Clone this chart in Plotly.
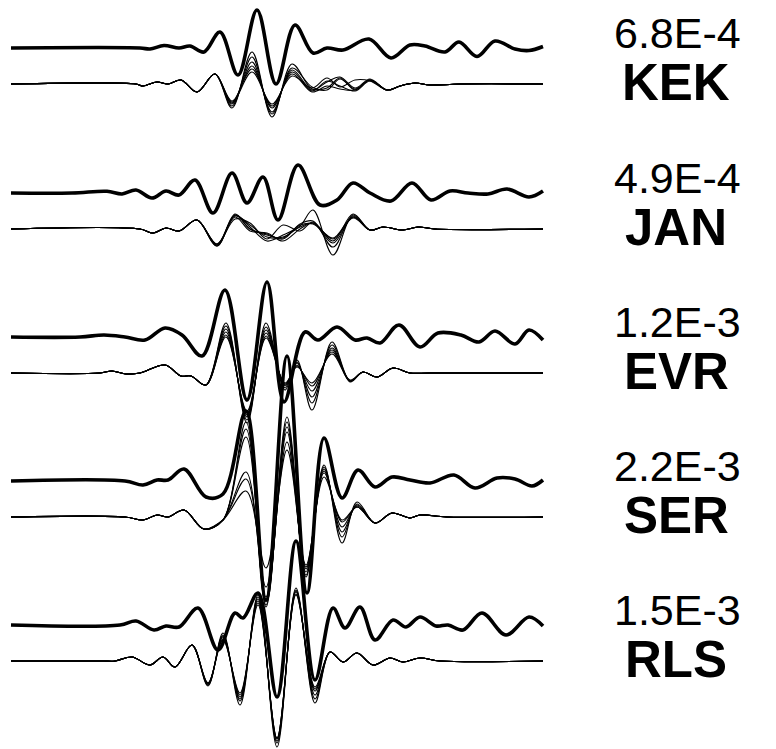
import plotly.graph_objects as go

# ---------------- data (time in s, displacement in display units) ----------------
STATIONS = ["KEK", "JAN", "EVR", "SER", "RLS"]
PEAKS = ["6.8E-4", "4.9E-4", "1.2E-3", "2.2E-3", "1.5E-3"]

# KEK
KEK_OBS_T = [11, 140, 150, 164, 179, 190, 204, 220, 238, 257, 276, 295, 313, 327, 343, 369, 391, 410, 425, 445, 459, 477, 495, 515, 529, 543]
KEK_OBS_A = [0, 0, -1, 2.5, 0, 2, -4, 16, -27, 38, -36, 23, -5, 0, -2, 9, -10, 3, 2, -4, 6, -8.5, 7, -1, -2.5, 1.5]
KEK_SYN_T = [11, 136, 143, 157, 168, 181, 197, 215, 232, 252, 272, 292, 312, 327, 340, 355, 370, 387, 400, 415, 430, 460, 543]
KEK_SYN_A = [
    [0, 0, -2, 2, 0, 4, -8, 10, -24, 32, -33, 20, -5, -4, 6, -6, 4, -6, -2, 1, -1, 0, 0],
    [0, 0, -2, 2, 0, 4, -8, 10, -22, 27, -30, 16, -3, -6, 5, -5, 4, -6, -2, 1, -1, 0, 0],
    [0, 0, -2, 2, 0, 4, -8, 10, -20, 22, -28, 14, -6, 2, 7, -4, 5, -6, -2, 1, -1, 0, 0],
    [0, 0, -2, 2, 0, 4, -8, 10, -19, 18, -24, 12, -7, 3, -2, -7, 3, -6, -2, 1, -1, 0, 0],
    [0, 0, -2, 2, 0, 4, -8, 10, -17, 15, -22, 10, -8, -2, -5, -6, 4, -6, -2, 1, -1, 0, 0],
    [0, 0, -2, 2, 0, 4, -8, 10, -18, 12, -20, 8, -4, 6, -3, 4, 3, -6, -2, 1, -1, 0, 0],
]

# JAN
JAN_OBS_T = [11, 72, 107, 122, 136, 152, 166, 179, 195, 213, 232, 247, 263, 278, 298, 320, 337, 353, 370, 391, 412, 431, 450, 468, 488, 507, 529, 543]
JAN_OBS_A = [0, 0, 1.7, -1, 3, -5, 2, -2, 13, -20, 20, -10, 16, -27, 28, -12, -7, 10, 0, -8, 10, -7, 2, 0, -1, 4, -4, 2]
JAN_SYN_T = [11, 140, 153, 166, 179, 197, 217, 235, 250, 267, 283, 300, 313, 333, 353, 370, 383, 403, 418, 435, 543]
JAN_SYN_A = [
    [0, 0, -4, 1, -2, 9, -17, 14, 2, -12, -6, 3, 19, -26, 14, -1, 2, -1, 2, 0, 0],
    [0, 0, -4, 1, -2, 9, -16, 15, 0, -5, -10, 5, 8, -18, 13, -1, 2, -1, 2, 0, 0],
    [0, 0, -4, 1, -2, 9, -15, 13, 4, -8, -8, 2, 6, -14, 12, -1, 2, -1, 2, 0, 0],
    [0, 0, -4, 1, -2, 9, -16, 12, -2, -4, -12, 0, 6, -10, 11, -1, 2, -1, 2, 0, 0],
    [0, 0, -4, 1, -2, 9, -15, 10, 6, -10, 4, -2, 7, -12, 15, -1, 2, -1, 2, 0, 0],
    [0, 0, -4, 1, -2, 9, -17, 14, 0, -6, -9, 4, 5, -9, 12, -1, 2, -1, 2, 0, 0],
]

# EVR
EVR_OBS_T = [11, 80, 104, 125, 145, 165, 182, 202, 225, 247, 267, 284, 305, 318, 337, 355, 367, 380, 399, 420, 438, 461, 479, 495, 515, 529, 543]
EVR_OBS_A = [0, 0, 2, 0, -3, 9, 2, -19, 47, -63, 55, -65, 5, -3, 10, -3, -1, -6, 12, -10, 4, 2, -5, 6, -7, 7, -3]
EVR_SYN_T = [11, 100, 112, 126, 140, 165, 181, 191, 206, 226, 247, 266, 285, 297, 312, 332, 350, 363, 377, 393, 410, 430, 543]
EVR_SYN_A = [
    [0, 0, 2, -1, 0, 8, -3, -3, -12, 50, -50, 50, -17, 13, -37, 31, -8, 1, -4, 5, 0, 0, 0],
    [0, 0, 2, -1, 0, 8, -3, -3, -12, 47, -47, 46, -15, 11, -30, 28, -8, 1, -4, 5, 0, 0, 0],
    [0, 0, 2, -1, 0, 8, -3, -3, -12, 44, -44, 43, -13, 10, -24, 25, -9, 1, -4, 5, 0, 0, 0],
    [0, 0, 2, -1, 0, 8, -3, -3, -12, 41, -42, 40, -12, 8, -18, 23, -8, 1, -4, 5, 0, 0, 0],
    [0, 0, 2, -1, 0, 8, -3, -3, -12, 38, -40, 37, -11, 7, -13, 21, -7, 1, -4, 5, 0, 0, 0],
    [0, 0, 2, -1, 0, 8, -3, -3, -12, 36, -38, 35, -10, 6, -10, 19, -8, 1, -4, 5, 0, 0, 0],
]

# SER
SER_OBS_T = [11, 125, 143, 157, 168, 184, 206, 223, 246, 266, 287, 307, 324, 342, 358, 375, 392, 410, 430, 454, 475, 497, 515, 532, 543]
SER_OBS_A = [0, 0, -4, 1, 1, 12, -16, -13, 70, -119, 125, -112, 43, -17, 11, -6, 4, 1, -2, 6, -7, 3, 2, -5, 1]
SER_SYN_T = [11, 125, 143, 157, 168, 184, 204, 223, 246, 266, 287, 306, 324, 342, 357, 375, 392, 410, 420, 447, 543]
SER_SYN_A = [
    [0, 0, -3, 2, 0, 7, -12, -3, 95, -90, 100, -60, 52, -26, 15, -6, 4, -1, 2, 0, 0],
    [0, 0, -3, 2, 0, 7, -12, -3, 88, -88, 95, -58, 50, -20, 13, -6, 4, -1, 2, 0, 0],
    [0, 0, -3, 2, 0, 7, -12, -3, 80, -85, 90, -55, 48, -15, 12, -6, 4, -1, 2, 0, 0],
    [0, 0, -3, 2, 0, 7, -12, -3, 45, -80, 85, -52, 46, -10, 11, -6, 4, -1, 2, 0, 0],
    [0, 0, -3, 2, 0, 7, -12, -3, 38, -70, 75, -50, 44, -5, 10, -6, 4, -1, 2, 0, 0],
    [0, 0, -3, 2, 0, 7, -12, -3, 26, -51, 67, -48, 40, -3, 10, -6, 4, -1, 2, 0, 0],
]

# RLS
RLS_OBS_T = [11, 120, 136, 154, 166, 179, 198, 218, 235, 243, 258, 277, 296, 315, 333, 345, 360, 375, 393, 406, 420, 436, 448, 463, 482, 506, 529, 543]
RLS_OBS_A = [0, 0, 4, -5, -1, -2, 17, -25, 12, 7, 32, -72, 84, -55, 17, -3, 18, -15, 5, -2, 8, -1, 0, -5, 12, -10, 8, -1]
RLS_SYN_T = [11, 95, 104, 115, 132, 150, 163, 175, 192, 208, 223, 240, 258, 277, 296, 315, 330, 343, 357, 373, 390, 403, 420, 440, 543]
RLS_SYN_A = [
    [0, 0, 0, 0, 4, -4, 4, -6, 16, -25, 28, -44, 66, -86, 73, -42, 9, -1, 8, -4, 3, -1, 3, 0, 0],
    [0, 0, 0, 0, 4, -4, 4, -6, 16, -24, 26, -40, 64, -82, 71, -38, 9, -1, 8, -4, 3, -1, 3, 0, 0],
    [0, 0, 0, 0, 4, -4, 4, -6, 16, -23, 25, -38, 62, -80, 70, -34, 9, -1, 8, -4, 3, -1, 3, 0, 0],
    [0, 0, 0, 0, 4, -4, 4, -6, 16, -23, 24, -36, 60, -78, 69, -30, 9, -1, 8, -4, 3, -1, 3, 0, 0],
    [0, 0, 0, 0, 4, -4, 4, -6, 16, -22, 22, -34, 58, -77, 67, -28, 9, -1, 8, -4, 3, -1, 3, 0, 0],
    [0, 0, 0, 0, 4, -4, 4, -6, 16, -22, 21, -32, 56, -77, 66, -26, 9, -1, 8, -4, 3, -1, 3, 0, 0],
]

OBS_T = [KEK_OBS_T, JAN_OBS_T, EVR_OBS_T, SER_OBS_T, RLS_OBS_T]
OBS_A = [KEK_OBS_A, JAN_OBS_A, EVR_OBS_A, SER_OBS_A, RLS_OBS_A]
SYN_T = [KEK_SYN_T, JAN_SYN_T, EVR_SYN_T, SER_SYN_T, RLS_SYN_T]
SYN_A = [KEK_SYN_A, JAN_SYN_A, EVR_SYN_A, SER_SYN_A, RLS_SYN_A]

# ---------------- layout (offsets of each station's traces) ----------------
OBS_BASE = [48, 193, 337, 481, 625]
SYN_BASE = [84, 229, 373, 517, 661]

fig = go.Figure()
for i in range(len(STATIONS)):
    for variant in SYN_A[i]:
        fig.add_trace(go.Scatter(
            x=SYN_T[i], y=[SYN_BASE[i] - a for a in variant], mode="lines",
            line=dict(color="black", width=1.1, shape="spline", smoothing=1.0),
            hoverinfo="skip", showlegend=False))
    fig.add_trace(go.Scatter(
        x=OBS_T[i], y=[OBS_BASE[i] - a for a in OBS_A[i]], mode="lines",
        line=dict(color="black", width=3.6, shape="spline", smoothing=1.0),
        hoverinfo="skip", showlegend=False))

    fig.add_annotation(x=677, y=OBS_BASE[i] - 15, xref="x", yref="y", text=PEAKS[i],
                       showarrow=False, xanchor="center", yanchor="middle",
                       font=dict(family="Liberation Sans, Arial", size=43, color="black"))
    fig.add_annotation(x=676, y=SYN_BASE[i] - 2, xref="x", yref="y", text="<b>" + STATIONS[i] + "</b>",
                       showarrow=False, xanchor="center", yanchor="middle",
                       font=dict(family="Liberation Sans, Arial", size=51, color="black"))

fig.update_layout(
    width=776, height=749, margin=dict(l=0, r=0, t=0, b=0),
    paper_bgcolor="white", plot_bgcolor="white",
    xaxis=dict(range=[0, 776], visible=False, fixedrange=True),
    yaxis=dict(range=[749, 0], visible=False, fixedrange=True),
    showlegend=False,
)
fig.write_html("out.html")
